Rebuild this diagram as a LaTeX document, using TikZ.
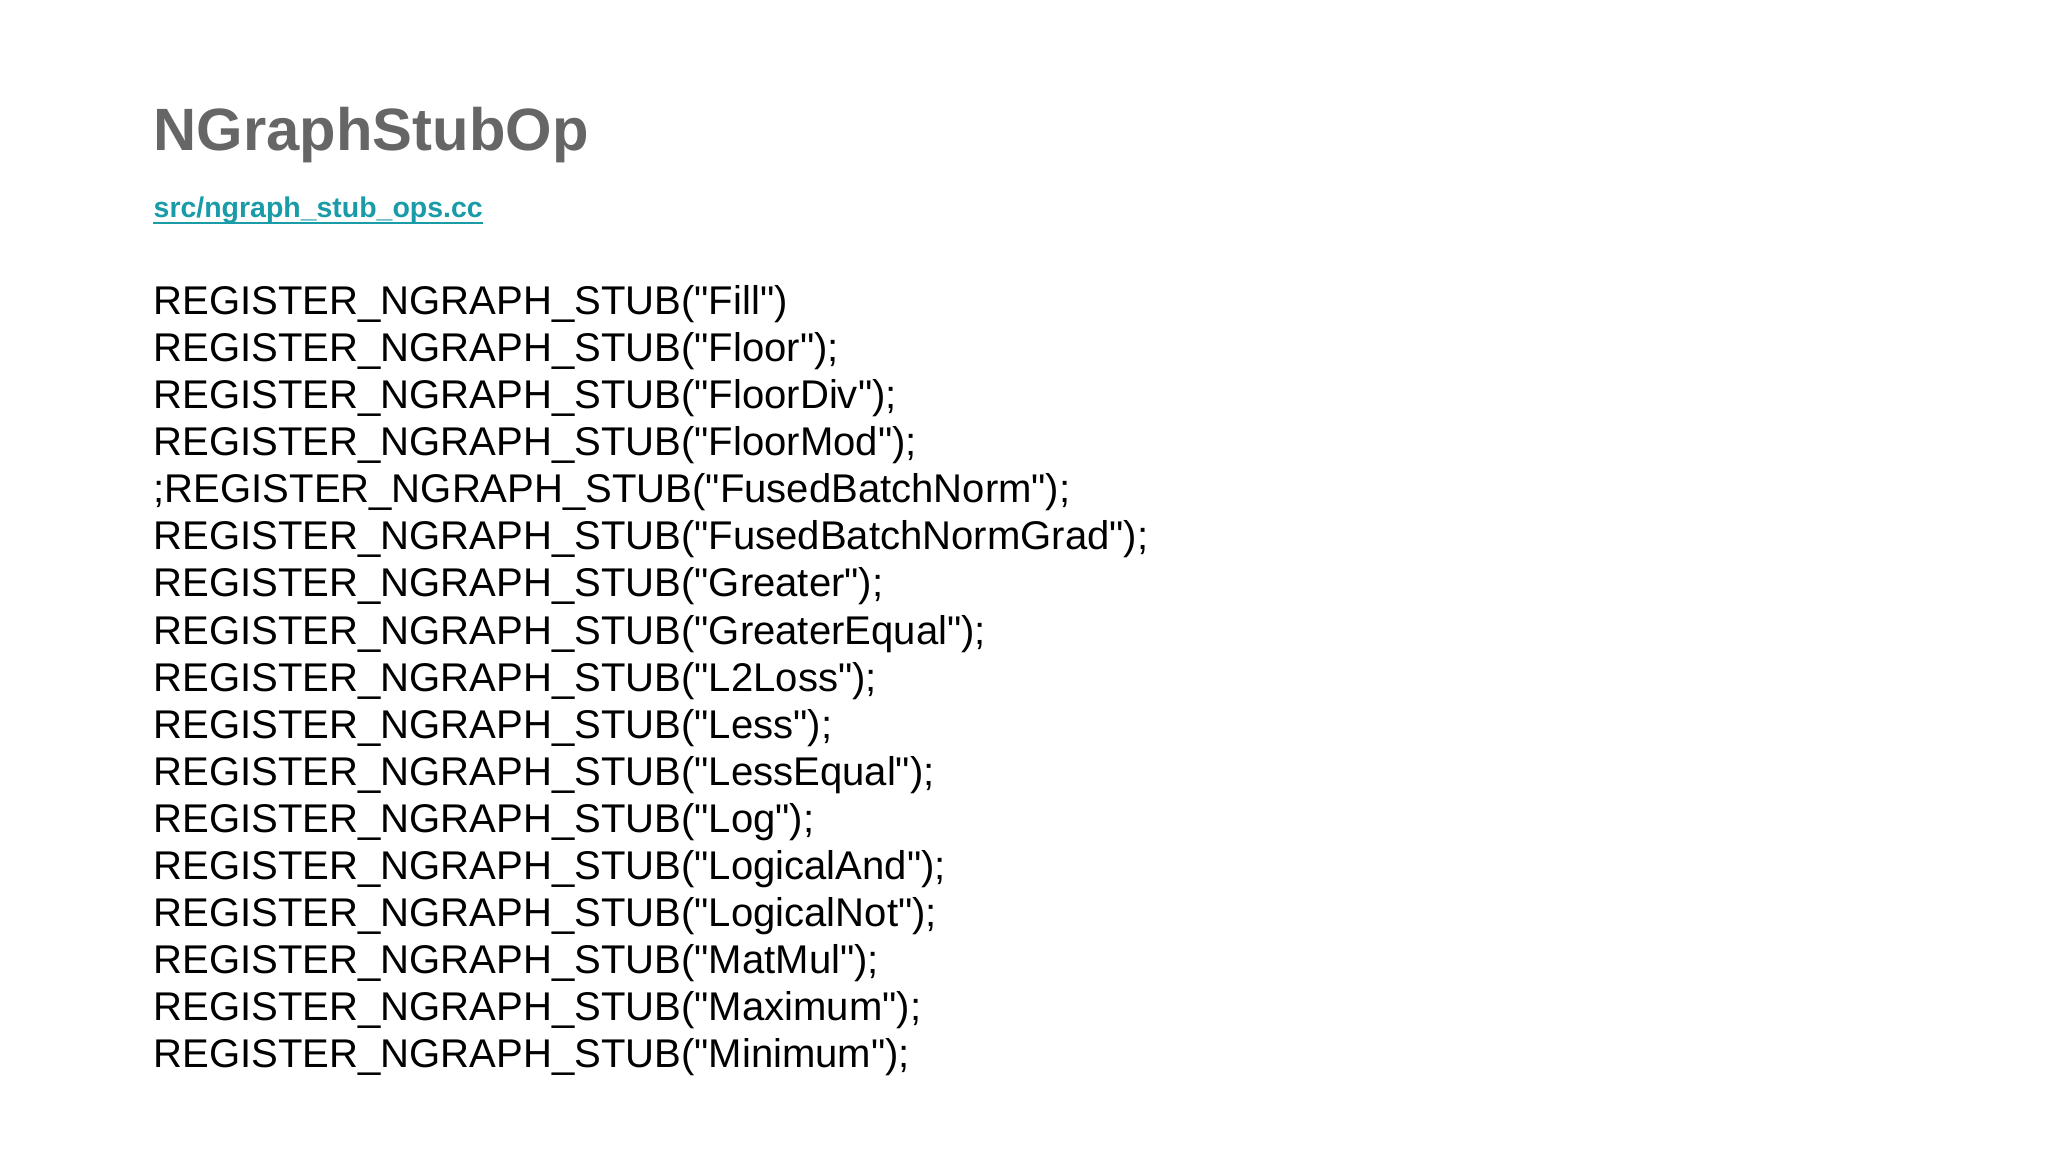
\documentclass[tikz,border=0pt]{standalone}
\usepackage{fontspec}
\newfontfamily\codefont{Liberation Sans}
\setmainfont{Liberation Sans}
\definecolor{titlegray}{HTML}{666666}
\definecolor{linkteal}{HTML}{1A9BA8}
\tikzset{codeline/.style={anchor=base west,inner sep=0pt,font=\codefont\fontsize{11.4pt}{14pt}\selectfont,text=black}}
\begin{document}
\begin{tikzpicture}[x=1cm,y=-1cm]
\useasboundingbox[fill=white] (0,0) rectangle (20.48,11.52);
\node[anchor=base west,inner sep=0pt,text=titlegray,font=\fontsize{17pt}{20pt}\selectfont\bfseries] (title) at (1.53,1.51) {NGraphStubOp};
\node[anchor=base west,inner sep=0pt,text=linkteal,font=\fontsize{8.1pt}{10pt}\selectfont\bfseries] (link) at (1.53,2.18) {src/ngraph\_stub\_ops.cc};
\draw[linkteal,line width=0.6pt] ([yshift=-1.5pt]link.base west) -- ([yshift=-1.5pt]link.base east);
\foreach \t [count=\i from 0] in {
REGISTER\_NGRAPH\_STUB("Fill"),
REGISTER\_NGRAPH\_STUB("Floor");,
REGISTER\_NGRAPH\_STUB("FloorDiv");,
REGISTER\_NGRAPH\_STUB("FloorMod");,
;REGISTER\_NGRAPH\_STUB("FusedBatchNorm");,
REGISTER\_NGRAPH\_STUB("FusedBatchNormGrad");,
REGISTER\_NGRAPH\_STUB("Greater");,
REGISTER\_NGRAPH\_STUB("GreaterEqual");,
REGISTER\_NGRAPH\_STUB("L2Loss");,
REGISTER\_NGRAPH\_STUB("Less");,
REGISTER\_NGRAPH\_STUB("LessEqual");,
REGISTER\_NGRAPH\_STUB("Log");,
REGISTER\_NGRAPH\_STUB("LogicalAnd");,
REGISTER\_NGRAPH\_STUB("LogicalNot");,
REGISTER\_NGRAPH\_STUB("MatMul");,
REGISTER\_NGRAPH\_STUB("Maximum");,
REGISTER\_NGRAPH\_STUB("Minimum");}
  \node[codeline] (l\i) at (1.53,{3.15+0.47*\i}) {\t};
\end{tikzpicture}
\end{document}
